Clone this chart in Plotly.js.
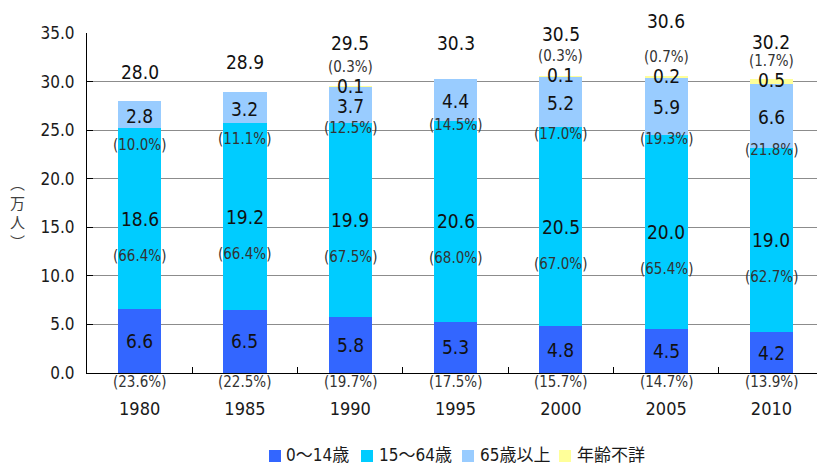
<!DOCTYPE html>
<html>
<head>
<meta charset="utf-8">
<script src="https://cdn.plot.ly/plotly-3.0.1.min.js"></script>
<style>
  html, body { margin: 0; padding: 0; background: #fff; }
  #chart { width: 817px; height: 464px; }
</style>
</head>
<body>
<div id="chart"></div>
<script>
// Population by age group (10,000 persons), census years 1980-2010
const years = ['1980', '1985', '1990', '1995', '2000', '2005', '2010'];
const seriesNames = ['0～14歳', '15～64歳', '65歳以上', '年齢不詳'];
const child    = [6.6, 6.5, 5.8, 5.3, 4.8, 4.5, 4.2];
const working  = [18.6, 19.2, 19.9, 20.6, 20.5, 20.0, 19.0];
const elderly  = [2.8, 3.2, 3.7, 4.4, 5.2, 5.9, 6.6];
const unknown  = [0, 0, 0.1, 0, 0.1, 0.2, 0.5];
const totals   = [28.0, 28.9, 29.5, 30.3, 30.5, 30.6, 30.2];

// Shares of the total (%)
const childPct   = [23.6, 22.5, 19.7, 17.5, 15.7, 14.7, 13.9];
const workingPct = [66.4, 66.4, 67.5, 68.0, 67.0, 65.4, 62.7];
const elderlyPct = [10.0, 11.1, 12.5, 14.5, 17.0, 19.3, 21.8];
const unknownPct = [null, null, 0.3, null, 0.3, 0.7, 1.7];

const colors = ['#3366FF', '#00CCFF', '#99CCFF', '#FFFF99'];

// Label placement tweaks (pixels)
const elderlyPctShift = [-17, -16, -4.5, -4, -7, -3.5, -2];
const totalShift = [29, 30, 43, 36, 42, 55, 37];

const FONT = '"DejaVu Sans Condensed", "DejaVu Sans", "Noto Sans CJK JP", sans-serif';
const W = 817, H = 464;
const M = { l: 87, r: 0, t: 33, b: 91 };
const plotW = W - M.l - M.r, plotH = H - M.t - M.b;
const px = x => (x - M.l) / plotW;
const py = y => (M.t + plotH - y) / plotH;

const series = [child, working, elderly, unknown];
const traces = series.map((vals, k) => ({
  type: 'bar',
  name: seriesNames[k],
  x: years,
  y: vals,
  marker: { color: colors[k], line: { width: 0 } },
  hoverinfo: 'skip'
}));

const fmt = v => v.toFixed(1);
const ann = [];
const valFont = { family: FONT, size: 19, color: '#111' };
const pctFont = { family: FONT, size: 15, color: '#333' };

// annotations on the category axis use the category index
years.forEach((yr, i) => {
  const c = child[i], w = working[i], e = elderly[i], u = unknown[i];
  const top = c + w + e + u;
  // 0-14
  ann.push({ x: i, y: c / 2, text: fmt(c), font: valFont });
  ann.push({ x: i, y: 0, yshift: -9, text: '(' + fmt(childPct[i]) + '%)', font: pctFont });
  // 15-64
  ann.push({ x: i, y: c + w / 2, text: fmt(w), font: valFont });
  ann.push({ x: i, y: c + w / 2, yshift: -37, text: '(' + fmt(workingPct[i]) + '%)', font: pctFont });
  // 65+
  ann.push({ x: i, y: c + w + e / 2, yshift: -1, text: fmt(e), font: valFont });
  ann.push({ x: i, y: c + w, yshift: elderlyPctShift[i], text: '(' + fmt(elderlyPct[i]) + '%)', font: pctFont });
  // unknown
  if (u > 0) {
    ann.push({ x: i, y: c + w + e + u / 2, yshift: 1, text: fmt(u), font: valFont });
    ann.push({ x: i, y: c + w + e + u / 2, yshift: 20, text: '(' + fmt(unknownPct[i]) + '%)', font: pctFont });
  }
  // total
  ann.push({ x: i, y: top, yshift: totalShift[i], text: fmt(totals[i]), font: valFont });
});
ann.forEach(a => {
  a.xref = 'x'; a.yref = 'y'; a.showarrow = false;
  a.xanchor = 'center'; a.yanchor = 'middle'; a.borderpad = 0;
});

// Vertical unit label
ann.push({
  xref: 'paper', yref: 'paper', x: px(17), y: py(212), showarrow: false,
  xanchor: 'center', yanchor: 'middle',
  text: '︵<br>万<br>人<br>︶',
  font: { family: '"Noto Sans CJK JP", sans-serif', size: 15, color: '#404040' }
});

// Legend row
const legSquareX = [269, 361, 462, 559];
const legTextX = [284, 377, 478, 575];
const shapes = [];
seriesNames.forEach((name, k) => {
  shapes.push({
    type: 'rect', xref: 'paper', yref: 'paper',
    x0: px(legSquareX[k]), x1: px(legSquareX[k] + 12),
    y0: py(462), y1: py(450),
    fillcolor: colors[k], line: { width: 0 }
  });
  ann.push({
    xref: 'paper', yref: 'paper', x: px(legTextX[k]), y: py(455),
    xanchor: 'left', yanchor: 'middle', showarrow: false,
    text: name, font: { family: FONT, size: 17, color: '#1a1a1a' }
  });
});

const layout = {
  width: W, height: H,
  margin: M,
  paper_bgcolor: '#fff', plot_bgcolor: '#fff',
  barmode: 'stack',
  bargap: 0.59,
  showlegend: false,
  font: { family: FONT, color: '#1a1a1a' },
  xaxis: {
    type: 'category',
    range: [-0.5, -0.5 + plotW / 105.3],
    showline: true, linecolor: '#000', linewidth: 1,
    ticks: 'inside', tickson: 'boundaries', ticklen: 6, tickcolor: '#000',
    tickfont: { family: FONT, size: 18, color: '#1a1a1a' },
    ticklabelstandoff: 19,
    showgrid: false, zeroline: false, fixedrange: true
  },
  yaxis: {
    range: [0, 35], dtick: 5, tick0: 0, tickformat: '.1f',
    showline: true, linecolor: '#000', linewidth: 1,
    ticks: 'inside', ticklen: 6, tickcolor: '#000',
    tickfont: { family: FONT, size: 17, color: '#1a1a1a' },
    ticklabelstandoff: 8,
    showgrid: true, gridcolor: '#8c8c8c', gridwidth: 1,
    zeroline: false, fixedrange: true
  },
  annotations: ann,
  shapes: shapes
};

Plotly.newPlot('chart', traces, layout, { displayModeBar: false, staticPlot: true });
</script>
</body>
</html>
